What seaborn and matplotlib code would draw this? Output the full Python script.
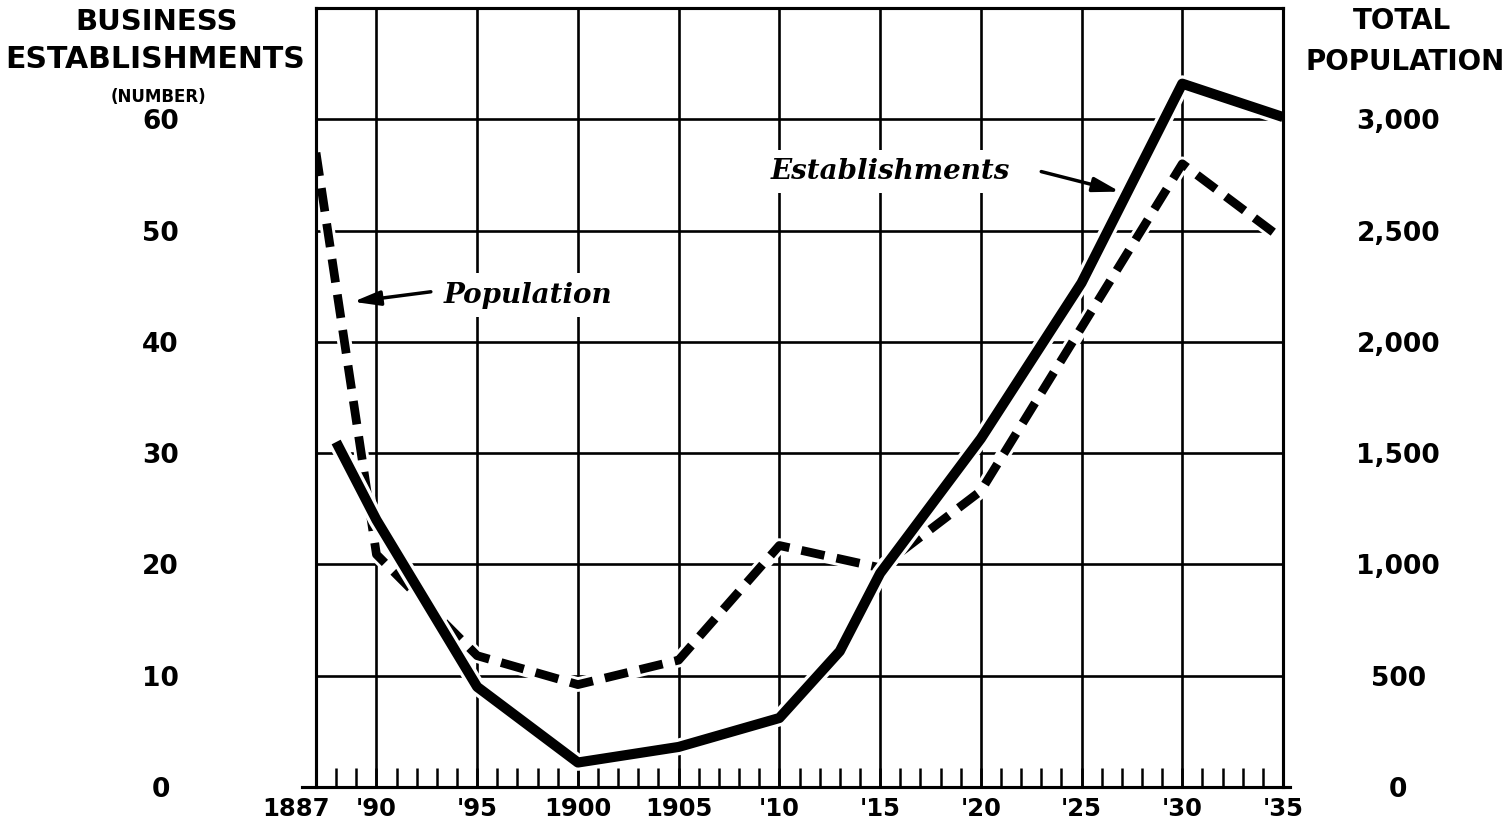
import matplotlib
matplotlib.use("Agg")
import matplotlib.pyplot as plt
import seaborn as sns
from matplotlib import patheffects as pe
from matplotlib.transforms import ScaledTranslation

# ---- data ----
est_years = [1888, 1890, 1895, 1900, 1905, 1910, 1913, 1915, 1920, 1925, 1930, 1935]
est_values = [31, 24, 9, 2.2, 3.6, 6.2, 12.2, 19.2, 31.3, 45.3, 63.2, 60.2]

pop_years = [1887, 1890, 1895, 1900, 1905, 1910, 1915, 1920, 1925, 1930, 1935]
pop_values = [2850, 1045, 590, 460, 570, 1085, 985, 1330, 2065, 2800, 2460]

x_ticks = [1887, 1890, 1895, 1900, 1905, 1910, 1915, 1920, 1925, 1930, 1935]
x_labels = ["1887", "'90", "'95", "1900", "1905", "'10", "'15", "'20", "'25", "'30", "'35"]
minor_years = list(range(1887, 1936))

est_ticks = [0, 10, 20, 30, 40, 50, 60]
est_labels = ["0", "10", "20", "30", "40", "50", "60"]
pop_ticks = [0, 500, 1000, 1500, 2000, 2500, 3000]
pop_labels = ["0", "500", "1,000", "1,500", "2,000", "2,500", "3,000"]

sns.set_style("white")
plt.rcParams["font.family"] = ["DejaVu Sans"]
plt.rcParams["text.color"] = "black"
plt.rcParams["xtick.color"] = "black"
plt.rcParams["ytick.color"] = "black"
plt.rcParams["xtick.labelcolor"] = "black"
plt.rcParams["ytick.labelcolor"] = "black"

W, H = 1510, 830
fig = plt.figure(figsize=(W / 100, H / 100), dpi=100)
left, right, bottom, top = 316, 1283, 787, 8
ax = fig.add_axes([left / W, 1 - bottom / H, (right - left) / W, (bottom - top) / H])
ax2 = ax.twinx()

# population (dashed) on primary axis: white halo underneath, then dashes
sns.lineplot(x=pop_years, y=pop_values, ax=ax, color="white", linewidth=10.5)
sns.lineplot(x=pop_years, y=pop_values, ax=ax, color="black", linewidth=6.3)
pl = ax.lines[-1]
pl.set_dashes([2.7, 1.4])
pl.set_dash_capstyle("butt")

# establishments (solid) on twin axis
sns.lineplot(x=est_years, y=est_values, ax=ax2, color="black", linewidth=7.3)
el = ax2.lines[-1]
el.set_solid_capstyle("butt")
el.set_path_effects([pe.Stroke(linewidth=12, foreground="white"), pe.Normal()])

ax.set_xlim(1887, 1935)
ax.set_ylim(0, 3500)
ax2.set_ylim(0, 70)
ax.set_xlabel("")
ax.set_ylabel("")
ax2.set_ylabel("")

# x axis
ax.set_xticks(x_ticks)
ax.set_xticklabels(x_labels)
ax.set_xticks(minor_years, minor=True)
ax.tick_params(axis="x", which="both", direction="in", length=14, width=1.8,
               pad=7, labelsize=17.5, bottom=True, colors="black")
for lbl in ax.get_xticklabels():
    lbl.set_fontweight("bold")
first = ax.get_xticklabels()[0]
first.set_transform(first.get_transform() + ScaledTranslation(-0.2, 0, fig.dpi_scale_trans))

# grid
ax.grid(True, which="major", color="black", linewidth=1.9)
ax.set_axisbelow(True)

# right axis: population
ax.set_yticks(pop_ticks)
ax.set_yticklabels(pop_labels)
ax.yaxis.tick_right()
ax.tick_params(axis="y", which="both", length=0, pad=83, labelsize=19)
for lbl in ax.get_yticklabels():
    lbl.set_ha("center")
    lbl.set_fontweight("bold")

# left axis: establishments
ax2.set_yticks(est_ticks)
ax2.set_yticklabels(est_labels)
ax2.yaxis.tick_left()
ax2.tick_params(axis="y", which="both", length=0, pad=112, labelsize=19)
for lbl in ax2.get_yticklabels():
    lbl.set_ha("center")
    lbl.set_fontweight("bold")
ax2.grid(False)

for a in (ax, ax2):
    for s in a.spines.values():
        s.set_visible(True)
        s.set_color("black")
        s.set_linewidth(2.2)
ax.spines["bottom"].set_bounds(1886.3, 1935.35)
ax2.spines["bottom"].set_bounds(1886.3, 1935.35)

# annotations
ax2.text(1915.5, 55.3, "Establishments", ha="center", va="center", fontsize=20,
         family="DejaVu Serif", style="italic", weight="bold",
         bbox=dict(boxstyle="square,pad=0.3", fc="white", ec="none"))
ax2.annotate("", xy=(1926.9, 53.5), xytext=(1923.0, 55.3),
             arrowprops=dict(arrowstyle="-|>,head_length=0.8,head_width=0.22",
                             color="black", lw=2.5, mutation_scale=20,
                             shrinkA=0, shrinkB=0))
ax2.text(1897.5, 44.2, "Population", ha="center", va="center", fontsize=20,
         family="DejaVu Serif", style="italic", weight="bold",
         bbox=dict(boxstyle="square,pad=0.3", fc="white", ec="none"))
ax2.annotate("", xy=(1888.85, 43.6), xytext=(1892.7, 44.5),
             arrowprops=dict(arrowstyle="-|>,head_length=0.8,head_width=0.22",
                             color="black", lw=2.5, mutation_scale=20,
                             shrinkA=0, shrinkB=0))

# axis titles
fig.text(157 / W, 1 - 22 / H, "BUSINESS", ha="center", va="center", fontsize=21, weight="bold")
fig.text(155 / W, 1 - 59 / H, "ESTABLISHMENTS", ha="center", va="center", fontsize=21.5, weight="bold")
fig.text(158 / W, 1 - 97 / H, "(NUMBER)", ha="center", va="center", fontsize=12, weight="bold")
fig.text(1402 / W, 1 - 21 / H, "TOTAL", ha="center", va="center", fontsize=20, weight="bold")
fig.text(1405 / W, 1 - 62 / H, "POPULATION", ha="center", va="center", fontsize=20, weight="bold")

fig.savefig("out.png", dpi=100, facecolor="white")
